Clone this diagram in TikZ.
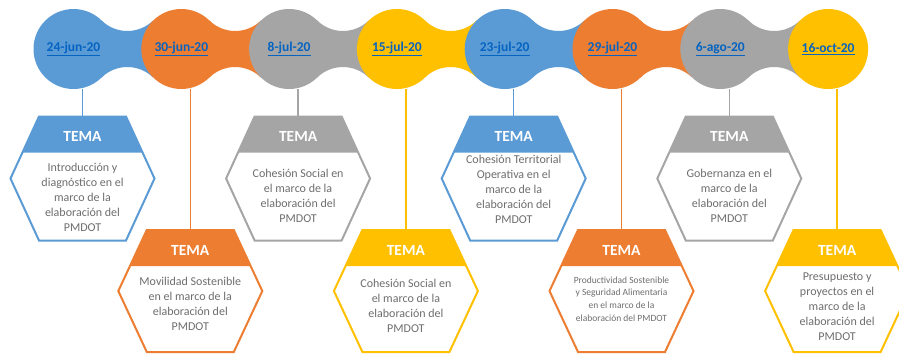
\documentclass[tikz,border=0pt]{standalone}
\usepackage{fontspec}
\setmainfont{Carlito}
\definecolor{cazul}{HTML}{5B9BD5}
\definecolor{cnaranja}{HTML}{ED7D31}
\definecolor{cgris}{HTML}{A5A5A5}
\definecolor{camarillo}{HTML}{FFC000}
\definecolor{enlace}{HTML}{0563C1}
\definecolor{letra}{HTML}{6E6E6E}
% neck between two date circles, #1 = x of the left circle
\newcommand{\cuello}[2]{\fill[#2] (#1+28,-20.4) arc[start angle=225.5,end angle=314.5,radius=36.9]
   -- (#1+79.7,-77.6) arc[start angle=45.5,end angle=134.5,radius=36.9] -- cycle;}
% hexagon with filled header round an empty node
\newcommand{\hexa}[2]{\fill[#2] ([xshift=28.5]#1.north west) -- ([xshift=-28.5]#1.north east)
   -- ([xshift=-12.2,yshift=-36]#1.north east) -- ([xshift=12.2,yshift=-36]#1.north west) -- cycle;
  \draw[#2,line width=2pt,line join=miter] ([xshift=28.5]#1.north west) -- ([xshift=-28.5]#1.north east)
   -- (#1.east) -- ([xshift=-28.5]#1.south east) -- ([xshift=28.5]#1.south west) -- (#1.west) -- cycle;}
\newcommand{\fecha}[1]{\textcolor{enlace}{\underline{#1}}}
\begin{document}
\begin{tikzpicture}[x=1pt,y=1pt,
    circulo/.style={circle,minimum size=80pt,inner sep=0pt,outer sep=0pt,
          font=\bfseries\fontsize{13.5}{15}\selectfont},
    caja/.style={rectangle,minimum width=144pt,minimum height=124pt,inner sep=0pt,outer sep=0pt},
    tema/.style={text=white,font=\bfseries\fontsize{15.5}{17}\selectfont},
    texto/.style={text=letra,align=center,font=\fontsize{12}{15}\selectfont},
    linea/.style={line width=1.5pt}]
  \clip (0,0) rectangle (899,-354);
  \fill[white] (0,0) rectangle (899,-354);
  % necks first, circles on top
  \cuello{73.5}{cazul}
  \cuello{181.3}{cnaranja}
  \cuello{289.1}{cgris}
  \cuello{396.9}{camarillo}
  \cuello{504.7}{cazul}
  \cuello{612.5}{cnaranja}
  \cuello{720.3}{cgris}
  \node[circulo,fill=cazul] (d1) at (73.5,-49) {\fecha{24-jun-20}};
  \node[circulo,fill=cnaranja] (d2) at (181.3,-49) {\fecha{30-jun-20}};
  \node[circulo,fill=cgris] (d3) at (289.1,-49) {\fecha{8-jul-20}};
  \node[circulo,fill=camarillo] (d4) at (396.9,-49) {\fecha{15-jul-20}};
  \node[circulo,fill=cazul] (d5) at (504.7,-49) {\fecha{23-jul-20}};
  \node[circulo,fill=cnaranja] (d6) at (612.5,-49) {\fecha{29-jul-20}};
  \node[circulo,fill=cgris] (d7) at (720.3,-49) {\fecha{6-ago-20}};
  \node[circulo,fill=camarillo] (d8) at (828.1,-49) {\fecha{16-oct-20}};
  % boxes
  \node[caja] (t1) at (82.5,-178.5) {};
  \node[caja,minimum height=122pt] (t2) at (190.3,-291) {};
  \node[caja] (t3) at (298.1,-178.5) {};
  \node[caja,minimum height=122pt] (t4) at (405.9,-291) {};
  \node[caja] (t5) at (513.7,-178.5) {};
  \node[caja,minimum height=122pt] (t6) at (621.5,-291) {};
  \node[caja] (t7) at (729.3,-178.5) {};
  \node[caja,minimum height=122pt] (t8) at (837.1,-291) {};
  \hexa{t1}{cazul}
  \hexa{t2}{cnaranja}
  \hexa{t3}{cgris}
  \hexa{t4}{camarillo}
  \hexa{t5}{cazul}
  \hexa{t6}{cnaranja}
  \hexa{t7}{cgris}
  \hexa{t8}{camarillo}
  \draw[linea,cazul] (t1.north) -- (t1.north |- d1.south);
  \draw[linea,cnaranja] (t2.north) -- (t2.north |- d2.south);
  \draw[linea,cgris] (t3.north) -- (t3.north |- d3.south);
  \draw[linea,camarillo] (t4.north) -- (t4.north |- d4.south);
  \draw[linea,cazul] (t5.north) -- (t5.north |- d5.south);
  \draw[linea,cnaranja] (t6.north) -- (t6.north |- d6.south);
  \draw[linea,cgris] (t7.north) -- (t7.north |- d7.south);
  \draw[linea,camarillo] (t8.north) -- (t8.north |- d8.south);
  \node[tema] (h1) at (82.5,-136) {TEMA};
  \node[tema] (h2) at (190.3,-250) {TEMA};
  \node[tema] (h3) at (298.1,-136) {TEMA};
  \node[tema] (h4) at (405.9,-250) {TEMA};
  \node[tema] (h5) at (513.7,-136) {TEMA};
  \node[tema] (h6) at (621.5,-250) {TEMA};
  \node[tema] (h7) at (729.3,-136) {TEMA};
  \node[tema] (h8) at (837.1,-250) {TEMA};
  \node[texto] (b1) at (82.5,-197.5) {Introducción y\\diagnóstico en el\\marco de la\\elaboración del\\PMDOT};
  \node[texto] (b2) at (190.3,-303.5) {Movilidad Sostenible\\en el marco de la\\elaboración del\\PMDOT};
  \node[texto] (b3) at (298.1,-196) {Cohesión Social en\\el marco de la\\elaboración del\\PMDOT};
  \node[texto] (b4) at (405.9,-306) {Cohesión Social en\\el marco de la\\elaboración del\\PMDOT};
  \node[texto] (b5) at (513.7,-189) {Cohesión Territorial\\Operativa en el\\marco de la\\elaboración del\\PMDOT};
  \node[texto,font=\fontsize{9.5}{12.7}\selectfont] (b6) at (621.5,-299) {Productividad Sostenible\\y Seguridad Alimentaria\\en el marco de la\\elaboración del PMDOT};
  \node[texto] (b7) at (729.3,-195.5) {Gobernanza en el\\marco de la\\elaboración del\\PMDOT};
  \node[texto] (b8) at (837.1,-307) {Presupuesto y\\proyectos en el\\marco de la\\elaboración del\\PMDOT};
\end{tikzpicture}
\end{document}
